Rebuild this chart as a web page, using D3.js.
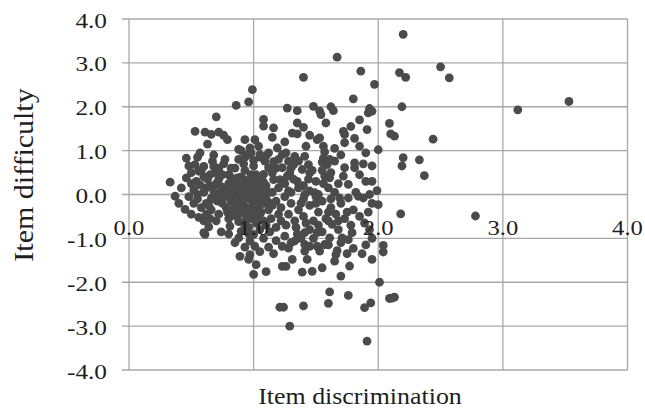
<!DOCTYPE html>
<html>
<head>
<meta charset="utf-8">
<script src="https://cdn.jsdelivr.net/npm/d3@7"></script>
<style>
	body { margin: 0; background: #fff; }
	svg text { font-family: "Liberation Serif", "Times New Roman", serif; fill: #1e1e1e; }
</style>
</head>
<body>
<svg id="chart"></svg>
<script>
// item parameters (x = discrimination, y = difficulty)
var discrimination = [
	3.53, 3.12, 2.20, 2.50, 2.57, 2.17, 2.22, 2.19, 2.09, 2.10,
	2.13, 2.44, 2.20, 2.33, 2.19, 2.37, 1.99, 2.18, 2.78, 2.04,
	2.04, 2.01, 2.09, 2.13, 2.11, 1.94, 1.89, 1.91, 1.76, 1.61,
	1.60, 1.29, 1.21, 1.24, 1.40, 1.70, 1.10, 1.23, 1.26, 1.39,
	1.47, 1.55, 1.65, 1.77, 1.95, 1.87, 1.80, 1.75, 1.67, 1.66,
	1.57, 1.53, 1.51, 1.45, 1.41, 1.41, 1.41, 1.51, 1.33, 1.28,
	1.23, 1.31, 1.43, 1.61, 1.71, 1.79, 1.63, 1.76, 1.89, 1.93,
	2.00, 1.00, 0.89, 0.96, 0.97, 1.02, 0.97, 1.01, 1.00, 0.88,
	0.90, 0.94, 0.81, 0.64, 0.61, 0.60, 0.56, 0.45, 0.37, 0.33,
	0.46, 0.53, 0.61, 0.70, 0.63, 0.66, 0.72, 0.76, 0.86, 0.96,
	0.99, 1.40, 1.67, 1.86, 1.97, 1.80, 1.27, 1.35, 1.48, 1.53,
	1.54, 1.64, 1.93, 1.95, 1.92, 1.58, 1.08, 1.08, 1.16, 1.31,
	1.35, 1.35, 1.40, 1.72, 1.73, 1.73, 1.81, 1.85, 1.91, 2.00,
	1.51, 1.53, 1.56, 1.57, 1.56, 1.55, 1.61, 1.65, 1.59, 1.73,
	1.81, 1.81, 1.72, 1.76, 1.95, 1.93, 1.57, 1.61, 1.41, 1.44,
	1.45, 1.39, 1.36, 1.33, 1.32, 1.19, 1.23, 1.28, 1.29, 1.27,
	1.21, 1.23, 1.01, 1.04, 1.05, 1.09, 1.12, 1.08, 1.15, 1.16,
	1.36, 1.45, 1.49, 1.52, 1.41, 1.28, 1.69, 1.76, 1.84, 1.88,
	0.53, 0.60, 0.67, 0.77, 0.68, 0.46, 0.56, 0.54, 0.88, 0.97,
	0.79, 0.95, 0.92, 0.85, 0.80, 0.72, 0.65, 0.60, 0.52, 0.48,
	0.75, 0.80, 0.85, 0.90, 0.93, 0.98, 1.00, 1.02, 0.95, 0.88,
	0.82, 0.78, 0.85, 0.92, 0.97, 1.03, 1.06, 1.10, 1.08, 1.12,
	1.05, 0.98, 0.92, 1.00, 1.15, 1.18, 1.22, 1.25, 1.20, 1.14,
	1.10, 1.05, 1.18, 1.22, 1.28, 1.30, 1.33, 1.36, 1.40, 1.45,
	1.48, 1.52, 1.55, 1.58, 1.62, 1.66, 1.70, 1.73, 1.80, 1.85,
	1.78, 1.68, 1.55, 1.45, 1.35, 1.25, 1.18, 1.12, 1.08, 1.16,
	1.05, 0.93, 0.85, 0.80, 0.74, 0.70, 0.72, 0.66, 0.62, 0.68,
	0.58, 0.52, 0.55, 0.62, 0.70, 0.75, 0.82, 0.88, 0.72, 0.60,
	0.65, 0.90, 0.95, 0.87, 0.80, 0.93, 1.00, 1.05, 1.12, 0.98,
	0.90, 0.84, 0.78, 1.08, 1.02, 0.96, 1.20, 1.26, 1.30, 1.38,
	1.48, 1.60, 1.68, 1.75, 1.62, 1.50, 1.40, 1.35, 1.40, 1.50,
	1.60, 1.65, 1.47, 1.55, 1.68, 1.85, 1.88, 1.90, 1.82, 1.95,
	1.92, 1.95, 1.90, 1.70, 1.60, 1.30, 1.25, 1.18, 1.25, 1.42,
	1.45, 1.65, 1.70, 1.90, 1.95, 1.78, 1.85, 1.62, 1.12, 1.15,
	0.93, 0.55, 0.50, 0.42, 0.40, 0.50, 0.65, 0.75, 0.70, 0.62,
	0.85, 0.95, 1.02, 0.90, 0.83, 0.77, 0.98, 1.04, 0.88, 0.94,
	1.02, 1.10, 1.15, 1.13, 1.00, 0.86, 0.79, 0.73, 1.07, 0.96,
	0.81, 0.87, 0.93, 0.99, 1.05, 0.84, 0.90, 0.96, 1.02, 1.08,
	0.78, 0.83, 0.89, 0.95, 1.01, 1.07, 0.86, 0.92, 0.98, 1.04,
	0.80, 0.85, 0.91, 0.97, 1.03, 0.88, 0.94, 1.00, 1.06, 1.12,
	0.58, 0.63, 0.68, 0.71, 0.57, 0.66, 0.74, 0.64, 0.69, 0.76,
	0.90, 0.98, 1.05, 0.93, 1.10, 1.00, 1.32, 1.38, 1.44, 1.50,
	1.56, 1.62, 1.34, 1.42, 1.52, 1.60, 1.30, 1.20, 1.26, 1.16,
	0.50, 0.55, 0.60, 0.48, 0.57, 0.68
];
var difficulty = [
	2.12, 1.93, 3.65, 2.91, 2.66, 2.78, 2.67, 2.00, 1.62, 1.38,
	1.33, 1.26, 0.84, 0.79, 0.65, 0.43, 0.09, -0.44, -0.49, -1.16,
	-1.31, -2.00, -2.37, -2.34, -2.36, -2.47, -2.58, -3.34, -2.30, -2.22,
	-2.48, -3.00, -2.57, -2.57, -2.54, -1.86, -1.76, -1.64, -1.64, -1.77,
	-1.75, -1.67, -1.52, -1.63, -1.48, -1.35, -1.23, -1.35, -1.28, -1.37,
	-1.14, -1.29, -1.18, -1.18, -1.29, -1.14, -0.87, -0.87, -1.06, -1.22,
	-1.18, -1.48, -1.48, -0.99, -0.99, -0.87, -0.68, -1.03, -0.65, -0.80,
	-0.23, -1.82, -1.41, -1.48, -1.37, -1.60, -1.06, -1.18, -0.91, -0.99,
	-0.84, -0.80, -0.72, -0.74, -0.91, -0.87, -0.52, -0.34, -0.04, 0.28,
	0.83, 1.44, 1.42, 1.77, 1.15, 1.37, 1.42, 1.35, 2.03, 2.11,
	2.39, 2.67, 3.13, 2.81, 2.51, 2.18, 1.97, 1.91, 2.01, 1.90,
	1.82, 1.91, 1.96, 1.90, 1.86, 1.63, 1.71, 1.56, 1.52, 1.40,
	1.38, 1.63, 1.53, 1.44, 1.37, 1.18, 1.28, 1.10, 1.48, 1.02,
	1.25, 1.29, 1.10, 0.97, 0.83, 0.74, 0.80, 0.76, 0.68, 0.61,
	0.72, 0.61, 0.42, 0.23, 0.30, 0.00, 0.42, 0.38, 0.87, 0.68,
	0.49, 0.57, 0.76, 0.87, 0.68, 1.06, 0.91, 0.76, 0.49, 0.42,
	0.34, 0.61, 1.25, 1.10, 0.91, 0.76, 0.61, 0.46, 0.49, 0.34,
	0.15, 0.08, 0.04, 0.00, 0.00, 0.08, -0.08, -0.08, -0.04, -0.08,
	0.68, 0.64, 0.76, 0.80, 0.64, 0.38, 0.53, 0.30, 1.03, 1.06,
	1.25, 0.90, 0.70, 0.60, 0.45, 0.35, 0.20, 0.05, 0.10, -0.05,
	0.10, 0.25, 0.15, 0.40, 0.55, 0.30, 0.65, 0.45, 0.05, -0.05,
	-0.15, -0.30, -0.40, -0.25, -0.10, 0.10, -0.05, 0.20, -0.20, -0.35,
	-0.45, -0.55, -0.65, -0.35, 0.05, -0.15, -0.30, -0.05, 0.15, -0.55,
	-0.70, -0.80, -0.75, -0.60, -0.45, -0.20, -0.60, -0.35, -0.50, -0.25,
	-0.60, -0.40, -0.15, -0.55, -0.30, -0.45, -0.20, -0.55, -0.35, -0.50,
	-0.70, -0.80, -0.85, -0.80, -0.90, -0.95, -1.05, -1.20, -1.00, -1.35,
	-1.30, -1.20, -1.10, -0.90, -0.85, -0.60, -0.45, -0.35, -0.20, -0.10,
	-0.30, -0.20, 0.00, 0.15, 0.25, 0.45, 0.60, 0.80, 0.60, 0.40,
	0.45, 0.20, -0.40, -0.50, -0.55, 0.10, -0.20, 0.30, 0.05, 0.45,
	-0.15, 0.00, 0.05, -0.60, -0.65, -0.75, -0.45, -0.70, -1.10, -1.00,
	-1.00, -0.60, -0.60, -0.40, -0.10, -0.20, -0.10, 0.30, 0.20, 0.30,
	0.15, 0.05, 0.55, 0.55, 0.25, 0.45, 0.70, 0.30, 0.05, -0.20,
	-0.40, -1.00, -1.15, -1.10, -1.15, 0.05, 0.25, 0.60, 1.20, 1.10,
	1.35, 1.05, 0.90, 0.95, 0.65, 1.55, 1.70, 2.00, 0.95, 1.30,
	1.25, 0.85, 0.50, 0.15, -0.20, -0.45, -0.55, -0.20, -0.05, -0.45,
	-0.25, -0.30, -0.15, 0.05, 0.35, -0.05, 0.15, -0.30, -0.35, 0.25,
	-0.45, -0.10, -0.25, -0.85, 0.00, 0.25, -0.40, 0.00, 0.15, -0.90,
	0.42, 0.38, 0.33, 0.37, 0.40, 0.20, 0.18, 0.22, 0.26, 0.28,
	0.12, 0.02, -0.02, 0.00, 0.03, -0.02, -0.20, -0.12, -0.08, -0.12,
	-0.35, -0.48, -0.42, -0.38, -0.55, -0.62, -0.58, -0.45, -0.40, -0.18,
	0.55, 0.35, 0.08, -0.15, 0.22, -0.08, 0.18, -0.25, 0.50, 0.70,
	1.00, 0.95, 0.85, 0.85, 0.88, 0.78, 0.35, -0.20, 0.35, -0.05,
	0.25, 0.50, -0.75, -0.65, -0.70, -0.40, 0.60, 0.80, 0.95, 0.75,
	0.25, -0.10, -0.60, 0.65, 0.95, 0.90
];
var xTicks = [0, 1, 2, 3, 4];
var yTicks = [-4, -3, -2, -1, 0, 1, 2, 3, 4];
var xTitle = "Item discrimination";
var yTitle = "Item difficulty";

var width = 645, height = 410;
var gridColor = "#a8a8a8";

var svg = d3.select("#chart")
	.attr("width", width)
	.attr("height", height);

var x = d3.scaleLinear().domain([0, 4]).range([129, 627.5]);
var y = d3.scaleLinear().domain([-4, 4]).range([370, 19]);

// horizontal grid, sticking out a little on the left like tick marks
svg.append("g").attr("class", "hgrid")
	.selectAll("line")
	.data(yTicks)
	.enter().append("line")
	.attr("x1", x(0) - 7)
	.attr("x2", x(4))
	.attr("y1", function(d) { return y(d); })
	.attr("y2", function(d) { return y(d); })
	.attr("stroke", gridColor)
	.attr("stroke-width", 1.3);

svg.append("g").attr("class", "vgrid")
	.selectAll("line")
	.data(xTicks)
	.enter().append("line")
	.attr("x1", function(d) { return x(d); })
	.attr("x2", function(d) { return x(d); })
	.attr("y1", y(4))
	.attr("y2", y(-4))
	.attr("stroke", gridColor)
	.attr("stroke-width", 1.3);

svg.append("g").attr("class", "dots")
	.selectAll("circle")
	.data(discrimination)
	.enter().append("circle")
	.attr("cx", function(d) { return x(d); })
	.attr("cy", function(d, i) { return y(difficulty[i]); })
	.attr("r", 4.4)
	.attr("fill", "#4b4b4b");

// plain hyphen for negatives, as in the original
var fmt = function(d) { return d.toFixed(1); };

// y tick labels
svg.append("g").attr("class", "ylabels")
	.selectAll("text")
	.data(yTicks)
	.enter().append("text")
	.attr("transform", function(d) { return "translate(107," + (y(d) + 8.5) + ") scale(1.15,1)"; })
	.attr("text-anchor", "end")
	.style("font-size", "22px")
	.text(function(d) { return fmt(d); });

// x tick labels sit below the zero line, on top of the dots
svg.append("g").attr("class", "xlabels")
	.selectAll("text")
	.data(xTicks)
	.enter().append("text")
	.attr("transform", function(d) { return "translate(" + x(d) + "," + (y(0) + 40) + ") scale(1.12,1)"; })
	.attr("text-anchor", "middle")
	.style("font-size", "22px")
	.text(function(d) { return fmt(d); });

svg.append("text")
	.attr("transform", "translate(360,404) scale(1.08,1)")
	.attr("text-anchor", "middle")
	.style("font-size", "24px")
	.text(xTitle);

svg.append("text")
	.attr("transform", "translate(33,175) rotate(-90) scale(1.11,1)")
	.attr("text-anchor", "middle")
	.style("font-size", "27px")
	.text(yTitle);
</script>
</body>
</html>
